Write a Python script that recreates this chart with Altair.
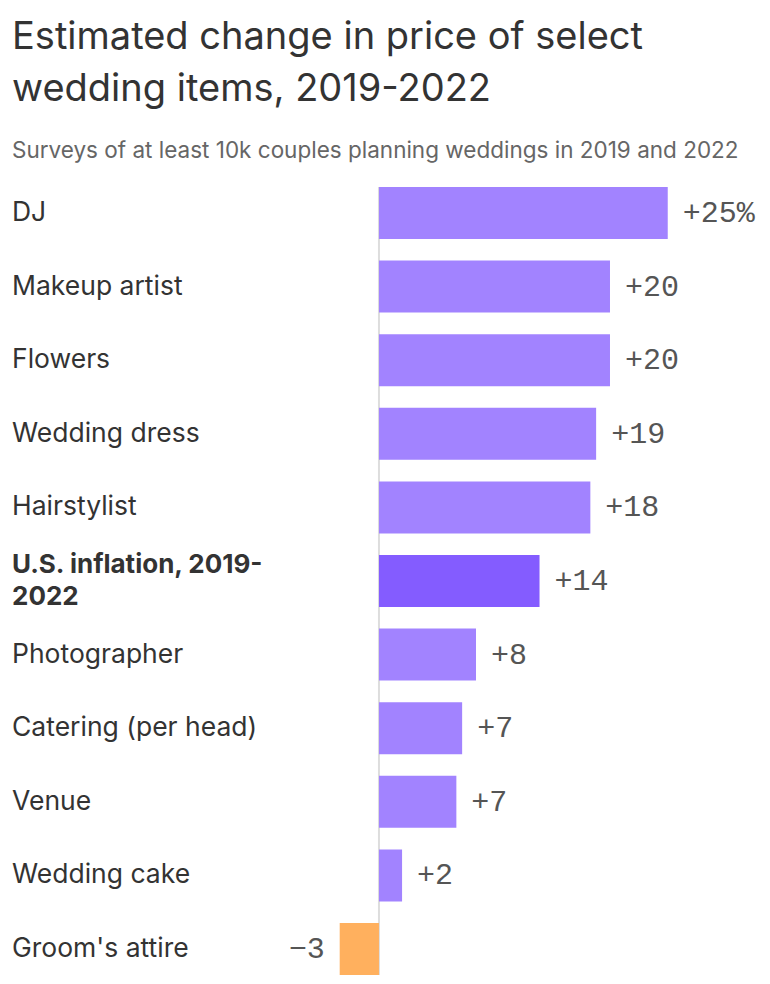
import altair as alt
import pandas as pd

items = ["DJ", "Makeup artist", "Flowers", "Wedding dress", "Hairstylist",
         "U.S. inflation, 2019-\n2022", "Photographer", "Catering (per head)",
         "Venue", "Wedding cake", "Groom's attire"]
values = [25, 20, 20, 18.8, 18.3, 13.9, 8.4, 7.2, 6.7, 2.0, -3.4]
labels = ["+25%", "+20", "+20", "+19", "+18", "+14", "+8", "+7", "+7", "+2", "\u22123"]
kinds = ["item", "item", "item", "item", "item", "inflation",
         "item", "item", "item", "item", "negative"]

df = pd.DataFrame({"item": items, "value": values, "label": labels, "kind": kinds,
                   "order": list(range(len(items)))})

W, H = 750, 788
y_enc = alt.Y("item:N", sort=items, axis=None,
              scale=alt.Scale(paddingInner=0.2935, paddingOuter=0))
x_scale = alt.Scale(domain=[-31.77, 33.16], nice=False, zero=False)

base = alt.Chart(df)

rule = base.mark_rule(color="#dddddd", strokeWidth=2).encode(
    x=alt.X("zero:Q", scale=x_scale, axis=None)
).transform_calculate(zero="0").transform_filter("datum.order == 0")

bars = base.mark_bar().encode(
    x=alt.X("value:Q", scale=x_scale, axis=None),
    x2=alt.datum(0),
    y=y_enc,
    color=alt.Color("kind:N", legend=None,
                    scale=alt.Scale(domain=["item", "inflation", "negative"],
                                    range=["#A283FF", "#845CFF", "#FFB05E"])),
)

val_pos = base.mark_text(align="left", baseline="middle", dx=15,
                         font="Liberation Mono", fontSize=30, color="#555555").encode(
    x=alt.X("value:Q", scale=x_scale, axis=None), y=y_enc, text="label:N"
).transform_filter("datum.value >= 0")

val_neg = base.mark_text(align="right", baseline="middle", dx=-15,
                         font="Liberation Mono", fontSize=30, color="#555555").encode(
    x=alt.X("value:Q", scale=x_scale, axis=None), y=y_enc, text="label:N"
).transform_filter("datum.value < 0")

cat_norm = base.mark_text(align="left", baseline="middle", font="Inter",
                          fontSize=26.5, color="#333333").encode(
    x=alt.value(0), y=y_enc, text="item:N"
).transform_filter("datum.kind != 'inflation'")

cat_bold = base.mark_text(align="left", baseline="middle", font="Inter",
                          fontSize=26, fontWeight="bold", color="#333333",
                          lineBreak="\n", lineHeight=32, dy=-16).encode(
    x=alt.value(0), y=y_enc, text="item:N"
).transform_filter("datum.kind == 'inflation'")

chart = alt.layer(rule, bars, val_pos, val_neg, cat_norm, cat_bold).properties(
    width=W, height=H,
    padding={"left": 4, "top": 10, "right": 0, "bottom": 0},
    title=alt.TitleParams(
        text=["Estimated change in price of select", "wedding items, 2019-2022"],
        subtitle="Surveys of at least 10k couples planning weddings in 2019 and 2022",
        anchor="start", font="Inter", fontSize=38, fontWeight="normal",
        color="#333333", lineHeight=52,
        subtitleFont="Inter", subtitleFontSize=22.5, subtitleColor="#666666",
        subtitlePadding=31, offset=24,
    ),
).configure_view(stroke=None)

chart.save("out.html", embed_options={"renderer": "svg", "actions": False})
